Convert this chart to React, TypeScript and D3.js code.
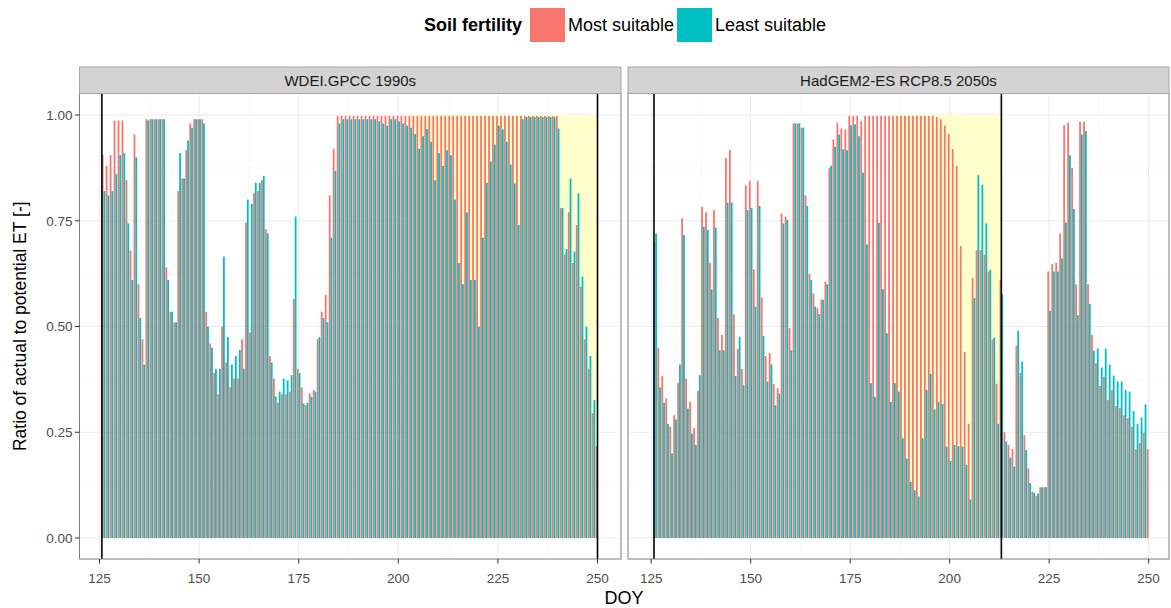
import React from 'react';
import * as d3 from 'd3';

// ---------- data ----------
const doy = d3.range(126, 251); // days of year 126..250

// WDEI.GPCC 1990s
const wdeiMost = [
  0.905, 0.88, 0.905, 0.987, 0.987, 0.987, 0.846, 0.68, 0.954, 0.60, // 126-135
  0.47, 0.99, 0.99, 0.99, 0.99, 0.99, 0.64, 0.535, 0.51, 0.82, // 136-145
  0.85, 0.917, 0.98, 0.99, 0.99, 0.99, 0.535, 0.46, 0.39, 0.34, // 146-155
  0.50, 0.415, 0.356, 0.377, 0.377, 0.47, 0.746, 0.486, 0.815, 0.82, // 156-165
  0.846, 0.73, 0.43, 0.377, 0.32, 0.34, 0.34, 0.346, 0.565, 0.40, // 166-175
  0.356, 0.314, 0.342, 0.35, 0.47, 0.535, 0.575, 0.81, 0.92, 0.998, // 176-185
  0.998, 0.998, 0.998, 0.998, 0.998, 0.998, 0.998, 0.998, 0.998, 0.998, // 186-195
  0.998, 0.998, 0.998, 0.998, 0.998, 0.998, 0.998, 0.998, 0.998, 0.998, // 196-205
  0.998, 0.998, 0.998, 0.998, 0.998, 0.998, 0.998, 0.998, 0.998, 0.998, // 206-215
  0.998, 0.998, 0.998, 0.998, 0.998, 0.998, 0.998, 0.998, 0.998, 0.998, // 216-225
  0.998, 0.998, 0.998, 0.998, 0.998, 0.998, 0.998, 0.998, 0.998, 0.998, // 226-235
  0.998, 0.998, 0.998, 0.998, 0.998, 0.78, 0.67, 0.77, 0.65, 0.74, // 236-245
  0.594, 0.47, 0.40, 0.295, 0.216, // 246-250
];
const wdeiLeast = [
  0.82, 0.81, 0.82, 0.86, 0.905, 0.91, 0.744, 0.61, 0.90, 0.52, // 126-135
  0.41, 0.987, 0.99, 0.99, 0.99, 0.99, 0.61, 0.535, 0.51, 0.91, // 136-145
  0.85, 0.94, 0.97, 0.99, 0.99, 0.98, 0.50, 0.45, 0.40, 0.40, // 146-155
  0.665, 0.475, 0.41, 0.43, 0.445, 0.40, 0.80, 0.79, 0.84, 0.84, // 156-165
  0.856, 0.72, 0.415, 0.335, 0.346, 0.377, 0.373, 0.385, 0.76, 0.39, // 166-175
  0.318, 0.32, 0.334, 0.346, 0.475, 0.52, 0.51, 0.71, 0.868, 0.98, // 176-185
  0.99, 0.99, 0.99, 0.99, 0.99, 0.99, 0.99, 0.99, 0.99, 0.985, // 186-195
  0.98, 0.975, 0.99, 0.99, 0.985, 0.98, 0.975, 0.97, 0.955, 0.92, // 196-205
  0.95, 0.967, 0.937, 0.846, 0.91, 0.88, 0.917, 0.905, 0.80, 0.65, // 206-215
  0.60, 0.77, 0.61, 0.61, 0.50, 0.71, 0.84, 0.89, 0.93, 0.975, // 216-225
  0.966, 0.937, 0.883, 0.838, 0.74, 0.99, 0.995, 0.995, 0.995, 0.995, // 226-235
  0.995, 0.995, 0.995, 0.995, 0.968, 0.78, 0.683, 0.85, 0.677, 0.815, // 236-245
  0.618, 0.50, 0.43, 0.326, null, // 246-250
];

// HadGEM2-ES RCP8.5 2050s
const hadMost = [
  0.70, 0.45, 0.383, 0.33, 0.263, 0.29, 0.367, 0.756, 0.377, 0.322, // 126-135
  0.26, 0.348, 0.783, 0.77, 0.65, 0.775, 0.52, 0.48, 0.898, 0.917, // 136-145
  0.529, 0.447, 0.40, 0.834, 0.844, 0.635, 0.844, 0.569, 0.43, 0.438, // 146-155
  0.364, 0.354, 0.767, 0.76, 0.496, 0.98, 0.98, 0.97, 0.81, 0.624, // 156-165
  0.578, 0.543, 0.564, 0.606, 0.874, 0.942, 0.982, 0.968, 0.966, 0.998, // 166-175
  0.998, 0.998, 0.986, 0.998, 0.998, 0.998, 0.998, 0.998, 0.998, 0.998, // 176-185
  0.998, 0.998, 0.998, 0.998, 0.998, 0.998, 0.998, 0.998, 0.998, 0.998, // 186-195
  0.998, 0.995, 0.99, 0.975, 0.955, 0.92, 0.88, 0.69, 0.44, 0.27, // 196-205
  0.615, 0.68, 0.68, 0.67, 0.63, 0.47, 0.365, 0.61, 0.25, 0.22, // 206-215
  0.21, 0.455, 0.39, 0.243, 0.165, 0.11, 0.10, 0.12, 0.12, 0.63, // 216-225
  0.648, 0.651, 0.72, 0.976, 0.982, 0.875, 0.60, 0.984, 0.984, 0.60, // 226-235
  0.48, 0.413, 0.359, 0.381, 0.326, 0.35, 0.312, 0.307, 0.29, 0.283, // 236-245
  0.263, 0.21, 0.225, 0.249, 0.21, // 246-250
];
const hadLeast = [
  0.72, 0.356, 0.32, 0.27, 0.20, 0.28, 0.41, 0.716, 0.306, 0.247, // 126-135
  0.22, 0.385, 0.736, 0.728, 0.588, 0.734, 0.444, 0.444, 0.793, 0.793, // 136-145
  0.383, 0.476, 0.362, 0.775, 0.78, 0.547, 0.785, 0.478, 0.37, 0.41, // 146-155
  0.314, 0.342, 0.744, 0.752, 0.444, 0.98, 0.98, 0.97, 0.785, 0.61, // 156-165
  0.547, 0.529, 0.563, 0.60, 0.88, 0.925, 0.954, 0.919, 0.917, 0.976, // 166-175
  0.978, 0.95, 0.864, 0.694, 0.366, 0.334, 0.745, 0.588, 0.484, 0.322, // 176-185
  0.366, 0.346, 0.236, 0.188, 0.133, 0.113, 0.098, 0.236, 0.35, 0.388, // 186-195
  0.304, 0.322, 0.317, 0.216, 0.182, 0.22, 0.217, 0.216, 0.173, 0.091, // 196-205
  0.567, 0.858, 0.835, 0.744, 0.634, 0.474, 0.27, 0.576, 0.228, 0.19, // 206-215
  0.169, 0.49, 0.417, 0.208, 0.13, 0.107, 0.105, 0.12, 0.12, 0.537, // 216-225
  0.63, 0.63, 0.661, 0.746, 0.905, 0.778, 0.527, 0.954, 0.962, 0.553, // 226-235
  0.443, 0.448, 0.403, 0.448, 0.41, 0.384, 0.37, 0.37, 0.35, 0.346, // 236-245
  0.30, 0.27, 0.285, 0.316, null, // 246-250
];

const panelTitles = ['WDEI.GPCC 1990s', 'HadGEM2-ES RCP8.5 2050s'];
const seasonLines = [[125.6, 250], [125.7, 213]];
const dryPeriods = [[203, 250], [186, 213]];
const xTicks = [125, 150, 175, 200, 225, 250];
const yTicks = [0, 0.25, 0.5, 0.75, 1];
const seriesNames = ['Most suitable', 'Least suitable'];
const seriesColors = ['#F8766D', '#00BFC4'];

// ---------- layout ----------
const W = 1171;
const H = 608;
const FONT = '"Liberation Sans", Arial, Helvetica, sans-serif';
const panelTop = 93.5;
const panelBottom = 559;
const stripTop = 67;
const panelBoxes = [
  { x0: 79.5, x1: 621, t125: 99.5, t250: 597.5 },
  { x0: 628, x1: 1169, t125: 651.2, t250: 1148.6 },
];
const yScale = d3.scaleLinear().domain([0, 1]).range([538, 115]);

function Panel({ idx }: { idx: number }) {
  const box = panelBoxes[idx];
  const xs = d3.scaleLinear().domain([125, 250]).range([box.t125, box.t250]);
  const most = idx === 0 ? wdeiMost : hadMost;
  const least = idx === 0 ? wdeiLeast : hadLeast;
  const half = 0.45;
  const minorX = d3.range(137.5, 250, 25);
  const minorY = [0.125, 0.375, 0.625, 0.875];
  const dry = dryPeriods[idx];
  const clipId = `clip${idx}`;
  return (
    <g>
      <defs>
        <clipPath id={clipId}>
          <rect x={box.x0} y={panelTop} width={box.x1 - box.x0} height={panelBottom - panelTop} />
        </clipPath>
      </defs>
      <rect x={box.x0} y={panelTop} width={box.x1 - box.x0} height={panelBottom - panelTop} fill="#fff" />
      <g clipPath={`url(#${clipId})`}>
        {minorX.map((v) => (
          <line key={'mx' + v} x1={xs(v)} x2={xs(v)} y1={panelTop} y2={panelBottom} stroke="#F2F2F2" strokeWidth={0.6} />
        ))}
        {minorY.map((v) => (
          <line key={'my' + v} y1={yScale(v)} y2={yScale(v)} x1={box.x0} x2={box.x1} stroke="#F2F2F2" strokeWidth={0.6} />
        ))}
        {xTicks.map((v) => (
          <line key={'Mx' + v} x1={xs(v)} x2={xs(v)} y1={panelTop} y2={panelBottom} stroke="#EBEBEB" strokeWidth={1} />
        ))}
        {yTicks.map((v) => (
          <line key={'My' + v} y1={yScale(v)} y2={yScale(v)} x1={box.x0} x2={box.x1} stroke="#EBEBEB" strokeWidth={1} />
        ))}
        <rect
          x={xs(dry[0])}
          y={yScale(1)}
          width={xs(dry[1]) - xs(dry[0])}
          height={yScale(0) - yScale(1)}
          fill="#FFFFCC"
        />
        {doy.map((d, i) => {
          const m = most[i];
          const l = least[i];
          return (
            <g key={d}>
              {m != null && (
                <rect
                  x={xs(d - half)}
                  y={yScale(m)}
                  width={xs(d) - xs(d - half)}
                  height={yScale(0) - yScale(m)}
                  fill={seriesColors[0]}
                />
              )}
              {l != null && (
                <rect
                  x={xs(d)}
                  y={yScale(l)}
                  width={xs(d + half) - xs(d)}
                  height={yScale(0) - yScale(l)}
                  fill={seriesColors[1]}
                />
              )}
            </g>
          );
        })}
        {seasonLines[idx].map((v) => (
          <line key={'v' + v} x1={xs(v)} x2={xs(v)} y1={panelTop} y2={panelBottom} stroke="#000" strokeWidth={1.6} />
        ))}
      </g>
      <rect
        x={box.x0}
        y={panelTop}
        width={box.x1 - box.x0}
        height={panelBottom - panelTop}
        fill="none"
        stroke="#7F7F7F"
        strokeWidth={1}
      />
      {/* strip */}
      <rect
        x={box.x0}
        y={stripTop}
        width={box.x1 - box.x0}
        height={panelTop - stripTop}
        fill="#D3D3D3"
        stroke="#A6A6A6"
        strokeWidth={1}
      />
      <text
        x={(box.x0 + box.x1) / 2}
        y={(stripTop + panelTop) / 2 + 5.5}
        textAnchor="middle"
        fontFamily={FONT}
        fontSize={15}
        fill="#1A1A1A"
      >
        {panelTitles[idx]}
      </text>
      {/* x axis */}
      {xTicks.map((v) => (
        <g key={'xt' + v}>
          <line x1={xs(v)} x2={xs(v)} y1={panelBottom} y2={panelBottom + 4.5} stroke="#333" strokeWidth={1} />
          <text x={xs(v)} y={panelBottom + 24} textAnchor="middle" fontFamily={FONT} fontSize={13.5} fill="#4D4D4D">
            {v}
          </text>
        </g>
      ))}
      {/* y axis on first panel */}
      {idx === 0 &&
        yTicks.map((v) => (
          <g key={'yt' + v}>
            <line x1={box.x0 - 4.5} x2={box.x0} y1={yScale(v)} y2={yScale(v)} stroke="#333" strokeWidth={1} />
            <text x={box.x0 - 7} y={yScale(v) + 4.8} textAnchor="end" fontFamily={FONT} fontSize={13.5} fill="#4D4D4D">
              {d3.format('.2f')(v)}
            </text>
          </g>
        ))}
    </g>
  );
}

export default function App() {
  return (
    <svg
      width={W}
      height={H}
      viewBox={`0 0 ${W} ${H}`}
      style={{ position: 'absolute', left: 0, top: 0, background: '#fff' }}
    >
      <rect x={0} y={0} width={W} height={H} fill="#fff" />
      {/* legend */}
      <text x={522} y={31} textAnchor="end" fontFamily={FONT} fontSize={18} fontWeight="bold" fill="#000">
        Soil fertility
      </text>
      {seriesNames.map((name, i) => {
        const kx = i === 0 ? 530 : 677;
        return (
          <g key={name}>
            <rect x={kx} y={8} width={35} height={34} fill={seriesColors[i]} />
            <text x={kx + 38} y={31} fontFamily={FONT} fontSize={18} fill="#000">
              {name}
            </text>
          </g>
        );
      })}
      <Panel idx={0} />
      <Panel idx={1} />
      {/* axis titles */}
      <text
        transform={`translate(26, ${(panelTop + panelBottom) / 2}) rotate(-90)`}
        textAnchor="middle"
        fontFamily={FONT}
        fontSize={17.5}
        fill="#000"
      >
        Ratio of actual to potential ET [-]
      </text>
      <text x={624} y={604} textAnchor="middle" fontFamily={FONT} fontSize={18} fill="#000">
        DOY
      </text>
    </svg>
  );
}
